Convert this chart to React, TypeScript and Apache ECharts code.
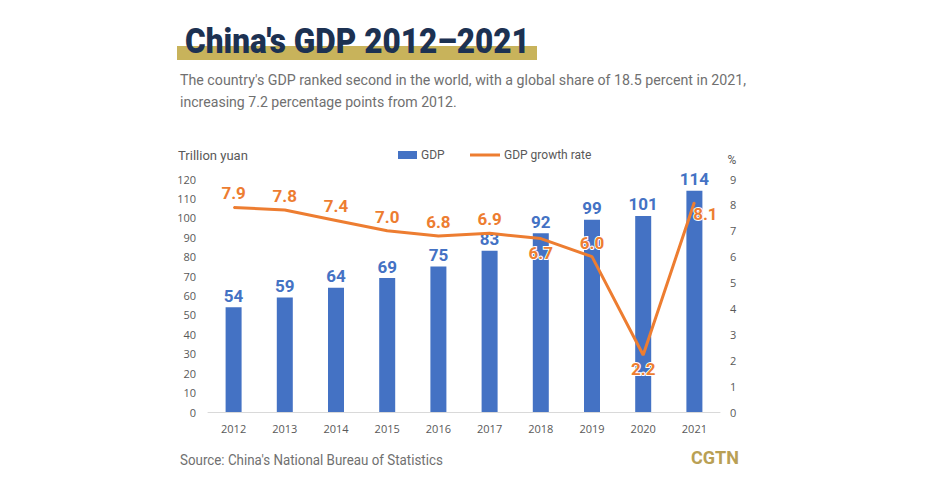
import React, { useEffect, useRef } from "react";
import * as echarts from "echarts";

const years = ["2012", "2013", "2014", "2015", "2016", "2017", "2018", "2019", "2020", "2021"];
const gdp = [54, 59, 64, 69, 75, 83, 92, 99, 101, 114];
const growth = [7.9, 7.8, 7.4, 7.0, 6.8, 6.9, 6.7, 6.0, 2.2, 8.1];
const leftAxis = { min: 0, max: 120, interval: 10 };
const rightAxis = { min: 0, max: 9, interval: 1 };

const titleText = "China's GDP 2012–2021";
const subtitle1 = "The country's GDP ranked second in the world, with a global share of 18.5 percent in 2021,";
const subtitle2 = "increasing 7.2 percentage points from 2012.";
const sourceText = "Source: China's National Bureau of Statistics";

const BLUE = "#4472c4";
const ORANGE = "#ed7d31";
const GRAY = "#595959";
const FONT = "Roboto, 'Noto Sans', sans-serif";
const TICKFONT = "'Open Sans', 'Noto Sans', sans-serif";

// label placement overrides for growth-rate labels
const belowIdx = [6, 8];
const belowRightIdx = [9];

function measure(text: string, font: string): number {
  const c = document.createElement("canvas").getContext("2d");
  if (!c) return 1;
  c.font = font;
  return c.measureText(text).width || 1;
}

function fitText(text: string, font: string, x: number, y: number, width: number, fill: string) {
  const w = measure(text, font);
  return {
    type: "text",
    x,
    y,
    scaleX: width / w,
    style: { text, fill, font, textVerticalAlign: "middle" },
  };
}

export default function App() {
  const ref = useRef<HTMLDivElement>(null);
  useEffect(() => {
    document.body.style.margin = "0";
    if (!ref.current) return;
    const chart = echarts.init(ref.current, null, { renderer: "svg" });
    const growthData = growth.map((v, i) => {
      if (belowIdx.includes(i)) return { value: v, label: { position: "bottom" } };
      if (belowRightIdx.includes(i)) return { value: v, label: { position: "bottom", offset: [11, -2] } };
      return { value: v };
    });
    chart.setOption({
      animation: false,
      backgroundColor: "#ffffff",
      grid: { left: 208, right: 209, top: 179, bottom: 74, containLabel: false },
      legend: [
        {
          data: [{ name: "GDP", icon: "rect" }],
          left: 393,
          top: 144,
          itemWidth: 19,
          itemHeight: 8,
          itemGap: 4,
          textStyle: { color: GRAY, fontSize: 12, fontFamily: FONT, padding: [0, 0, 0, -1] },
        },
        {
          data: [{ name: "GDP growth rate", icon: "rect" }],
          left: 465,
          top: 144,
          itemWidth: 30,
          itemHeight: 3,
          textStyle: { color: GRAY, fontSize: 12, fontFamily: FONT, padding: [0, 0, 0, -1] },
        },
      ],
      xAxis: {
        type: "category",
        data: years,
        axisLine: { lineStyle: { color: "#d9d9d9", width: 1 } },
        axisTick: { show: false },
        axisLabel: { color: GRAY, fontSize: 11, fontFamily: TICKFONT, margin: 11 },
      },
      yAxis: [
        {
          type: "value",
          min: leftAxis.min,
          max: leftAxis.max,
          interval: leftAxis.interval,
          splitLine: { show: false },
          axisLine: { show: false },
          axisTick: { show: false },
          axisLabel: { color: GRAY, fontSize: 11, fontFamily: TICKFONT, margin: 12 },
        },
        {
          type: "value",
          min: rightAxis.min,
          max: rightAxis.max,
          interval: rightAxis.interval,
          splitLine: { show: false },
          axisLine: { show: false },
          axisTick: { show: false },
          axisLabel: { color: GRAY, fontSize: 11, fontFamily: TICKFONT, margin: 10 },
        },
      ],
      series: [
        {
          name: "GDP",
          type: "bar",
          data: gdp,
          barWidth: 16,
          itemStyle: { color: BLUE },
          label: {
            show: true,
            position: "top",
            distance: 3,
            color: BLUE,
            fontSize: 17,
            fontWeight: "bold",
            fontFamily: FONT,
          },
          z: 2,
        },
        {
          name: "GDP growth rate",
          type: "line",
          yAxisIndex: 1,
          data: growthData,
          symbol: "circle",
          symbolSize: 1,
          showSymbol: true,
          lineStyle: { color: ORANGE, width: 3 },
          itemStyle: { color: ORANGE },
          label: {
            show: true,
            position: "top",
            distance: 5,
            color: ORANGE,
            fontSize: 17,
            fontWeight: "bold",
            fontFamily: FONT,
            textBorderColor: "#ffffff",
            textBorderWidth: 2,
            formatter: (p: any) => Number(p.value).toFixed(1),
          },
          z: 3,
        },
      ],
      graphic: [
        { type: "rect", shape: { x: 177, y: 46, width: 360, height: 14 }, style: { fill: "#c8b35b" } },
        fitText(titleText, `900 35px ${FONT}`, 185, 41, 345, "#1c3152"),
        fitText(subtitle1, `15px ${FONT}`, 180, 80, 566, "#707070"),
        fitText(subtitle2, `15px ${FONT}`, 180, 101.5, 277, "#707070"),
        fitText("Trillion yuan", `12px ${FONT}`, 178, 156, 70, GRAY),
        {
          type: "text",
          x: 732,
          y: 160,
          style: { text: "%", fill: GRAY, font: `12px ${FONT}`, textAlign: "center", textVerticalAlign: "middle" },
        },
        fitText(sourceText, `15px ${FONT}`, 180, 460, 263, "#707070"),
        fitText("CGTN", `bold 18px ${FONT}`, 691, 458, 48, "#b9a054"),
      ],
    });
    return () => chart.dispose();
  }, []);
  return <div ref={ref} style={{ width: 929, height: 486 }} />;
}
